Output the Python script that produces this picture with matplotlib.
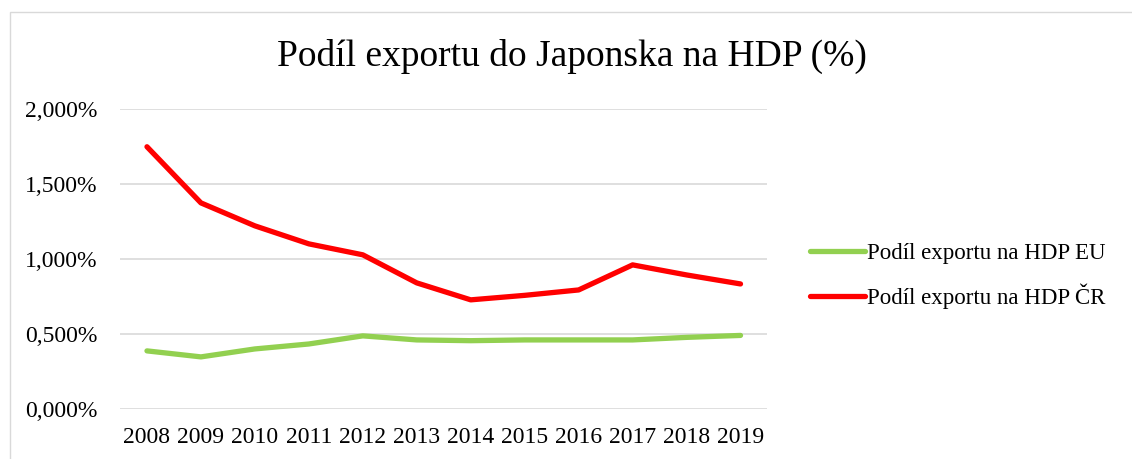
import matplotlib.pyplot as plt
from matplotlib.ticker import FuncFormatter
from matplotlib.patches import Rectangle

years = [2008, 2009, 2010, 2011, 2012, 2013, 2014, 2015, 2016, 2017, 2018, 2019]
eu_share = [0.387, 0.347, 0.400, 0.433, 0.487, 0.460, 0.455, 0.460, 0.460, 0.460, 0.477, 0.490]
cr_share = [1.747, 1.373, 1.220, 1.100, 1.027, 0.840, 0.727, 0.757, 0.793, 0.960, 0.893, 0.833]

plt.rcParams['font.family'] = ['Liberation Serif', 'DejaVu Serif']

fig = plt.figure(figsize=(11.32, 4.59), dpi=100)
ax = fig.add_axes([0.106, 0.109, 0.572, 0.654])

x = list(range(len(years)))
ax.plot(x, eu_share, color='#92D050', lw=3.8, solid_capstyle='round', label='Podíl exportu na HDP EU')
ax.plot(x, cr_share, color='#FF0000', lw=3.8, solid_capstyle='round', label='Podíl exportu na HDP ČR')

ax.set_xlim(-0.5, len(years) - 0.5)
ax.set_ylim(0, 2.0)
ax.set_yticks([0, 0.5, 1.0, 1.5, 2.0])
ax.yaxis.set_major_formatter(FuncFormatter(lambda v, p: ('%.3f%%' % v).replace('.', ',')))
ax.set_xticks(x)
ax.set_xticklabels([str(y) for y in years])
ax.tick_params(axis='both', length=0, labelsize=17, colors='black')
ax.tick_params(axis='y', pad=16)
ax.tick_params(axis='x', pad=13)
ax.grid(axis='y', color='#D9D9D9', lw=1.2)
ax.set_axisbelow(True)
for s in ax.spines.values():
    s.set_visible(False)

fig.text(0.505, 0.877, 'Podíl exportu do Japonska na HDP (%)', ha='center', va='center', fontsize=27)

fig.legend(loc='center left', bbox_to_anchor=(0.697, 0.398), frameon=False, fontsize=16.5,
           handlelength=2.4, handletextpad=0.12, labelspacing=0.85)

fig.patches.append(Rectangle((0.009, -0.1), 1.1, 1.073, transform=fig.transFigure,
                             fill=False, edgecolor='#D9D9D9', lw=1))

fig.savefig('out.png', dpi=100)
